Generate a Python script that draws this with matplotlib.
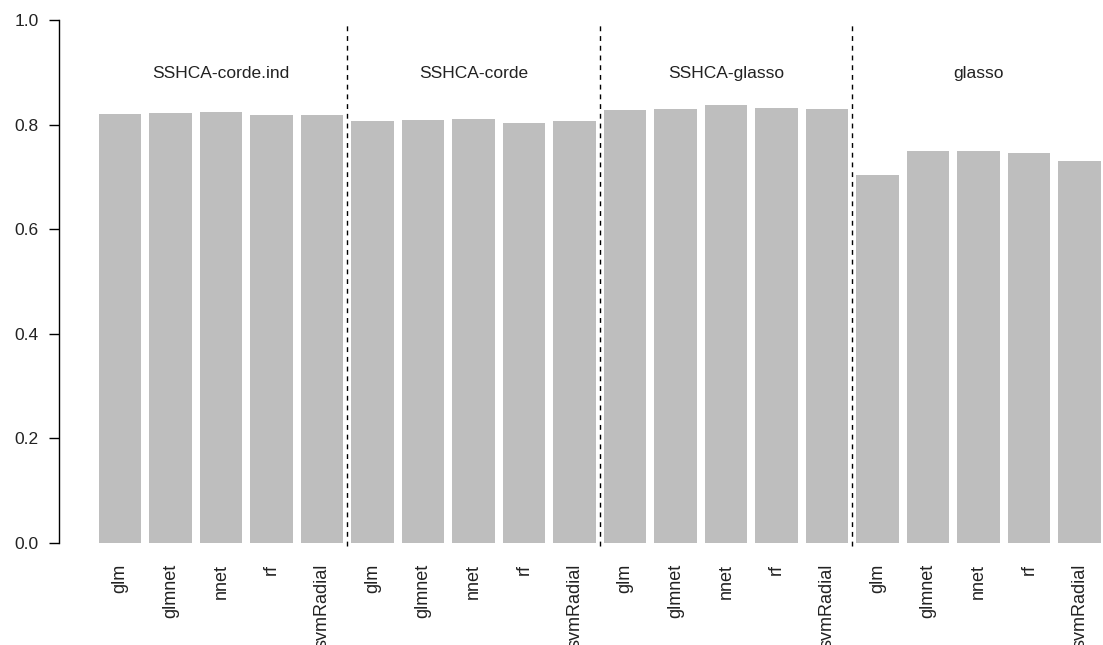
import matplotlib
matplotlib.use('Agg')
import matplotlib.pyplot as plt

plt.rcParams['font.family'] = ['Liberation Sans', 'DejaVu Sans']

methods = ['SSHCA-corde.ind', 'SSHCA-corde', 'SSHCA-glasso', 'glasso']
models = ['glm', 'glmnet', 'nnet', 'rf', 'svmRadial']

auc_corde_ind = [0.820, 0.822, 0.825, 0.818, 0.818]
auc_corde = [0.807, 0.809, 0.811, 0.803, 0.807]
auc_sshca_glasso = [0.828, 0.830, 0.837, 0.832, 0.830]
auc_glasso = [0.704, 0.749, 0.749, 0.746, 0.730]


def main():
  values = auc_corde_ind + auc_corde + auc_sshca_glasso + auc_glasso
  labels = models * len(methods)
  xs = list(range(len(values)))

  fig = plt.figure(figsize=(11.03, 6.45), dpi=100)
  ax = fig.add_axes([59.3 / 1103, 102 / 645, 1043.7 / 1103, 523 / 645])

  ax.bar(xs, values, width=0.833, color='#bebebe', edgecolor='none')

  # dashed separators between method groups, with group names on top
  n = len(models)
  for g, name in enumerate(methods):
    if g > 0:
      ax.vlines(g * n - 0.5, -0.006, 0.996, colors='black', linewidth=1.0,
                linestyles=(0, (3.5, 3.5)), clip_on=False)
    ax.text(g * n + (n - 1) / 2.0, 0.897, name, ha='center', va='center',
            fontsize=12.5, color='#222222')

  ax.set_xlim(-1.202, 19.465)
  ax.set_ylim(0, 1)
  ax.set_yticks([0.0, 0.2, 0.4, 0.6, 0.8, 1.0])
  ax.set_yticklabels(['0.0', '0.2', '0.4', '0.6', '0.8', '1.0'])
  ax.set_xticks(xs)
  ax.set_xticklabels(labels, rotation=90, fontsize=13, color='#222222')
  ax.tick_params(axis='x', length=0, pad=15)
  ax.tick_params(axis='y', length=7.2, width=1.0, pad=7.5, labelsize=12.5,
                 labelcolor='#222222')

  for side in ['top', 'right', 'bottom']:
    ax.spines[side].set_visible(False)
  ax.spines['left'].set_bounds(0, 1)
  ax.spines['left'].set_linewidth(1.0)

  fig.savefig('out.png', dpi=100)


if __name__ == "__main__":
  main()
